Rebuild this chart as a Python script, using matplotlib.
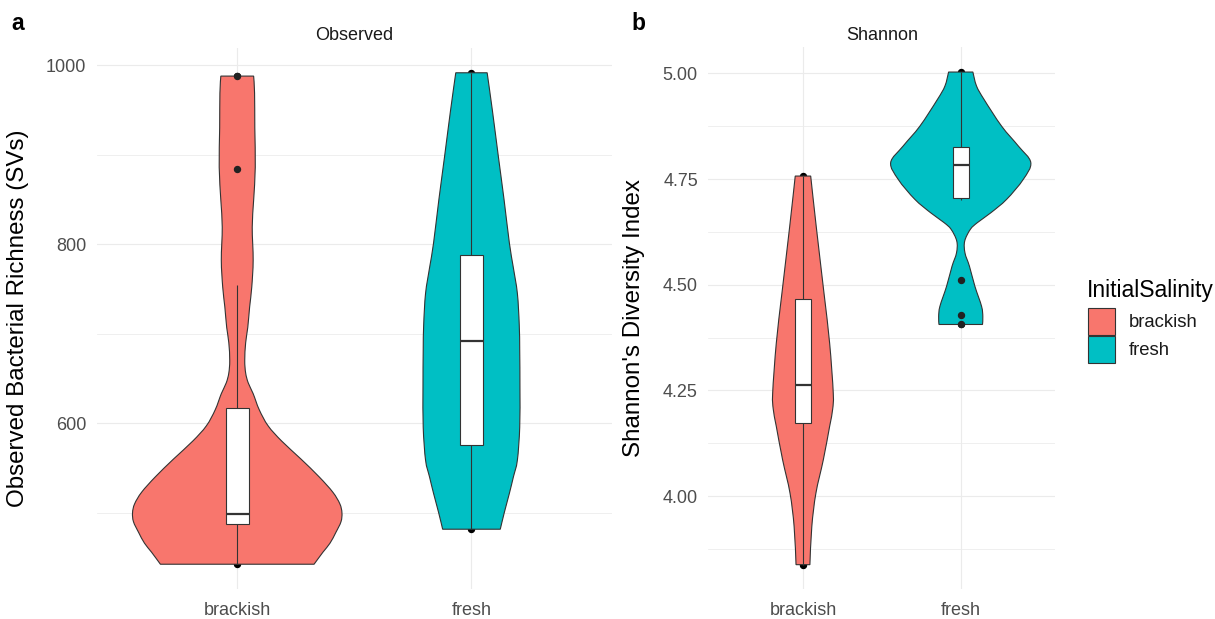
import numpy as np
import matplotlib
matplotlib.use("Agg")
import matplotlib.pyplot as plt
from matplotlib.patches import Rectangle, PathPatch
from matplotlib.path import Path

plt.rcParams['font.family'] = ['Liberation Sans', 'DejaVu Sans']

# ---------------- data ----------------
groups = ["brackish", "fresh"]
fill_colors = ["#F8766D", "#00BFC4"]

# Observed richness: violin outline (value, half-width in category units)
obs_brackish_y = [442.5, 456, 466, 478, 490, 500, 510, 523, 540, 560, 580, 597, 615,
                  633, 645, 656, 670, 690, 707, 730, 752, 782, 819, 849, 886, 930,
                  968.7, 987.7]
obs_brackish_w = [0.328, 0.366, 0.396, 0.421, 0.443, 0.447, 0.438, 0.408, 0.350, 0.272,
                  0.190, 0.132, 0.094, 0.068, 0.047, 0.036, 0.032, 0.036, 0.045, 0.053,
                  0.062, 0.068, 0.064, 0.070, 0.077, 0.075, 0.074, 0.070]
obs_fresh_y = [481.6, 500, 521.8, 540, 558.7, 595.5, 640, 681.6, 710, 745, 775, 801,
               850, 897.5, 950, 991.4]
obs_fresh_w = [0.123, 0.140, 0.162, 0.179, 0.196, 0.206, 0.207, 0.206, 0.204, 0.196,
               0.178, 0.162, 0.139, 0.115, 0.089, 0.067]
# box statistics: lower whisker, Q1, median, Q3, upper whisker
obs_brackish_box = [442.5, 487.9, 499.1, 617.1, 754.2]
obs_fresh_box = [481.6, 575.4, 691.6, 787.7, 991.4]
obs_brackish_outliers = [884.2, 987.7]
obs_fresh_outliers = []

# Shannon diversity
sha_brackish_y = [3.838, 3.928, 4.007, 4.086, 4.165, 4.205, 4.244, 4.362, 4.481, 4.638, 4.757]
sha_brackish_w = [0.044, 0.056, 0.082, 0.129, 0.169, 0.188, 0.192, 0.169, 0.133, 0.084, 0.049]
sha_fresh_y = [4.406, 4.425, 4.449, 4.496, 4.544, 4.575, 4.603, 4.631, 4.647, 4.670,
               4.702, 4.749, 4.789, 4.828, 4.875, 4.938, 4.970, 5.003]
sha_fresh_w = [0.138, 0.140, 0.132, 0.090, 0.055, 0.027, 0.025, 0.061, 0.106, 0.190,
               0.291, 0.396, 0.444, 0.365, 0.259, 0.148, 0.100, 0.077]
sha_brackish_box = [3.838, 4.173, 4.264, 4.467, 4.757]
sha_fresh_box = [4.700, 4.706, 4.784, 4.826, 5.003]
sha_brackish_outliers = []
sha_fresh_outliers = [4.406, 4.429, 4.512]

panels = [
    dict(letter="a", strip="Observed", ylabel="Observed Bacterial Richness (SVs)",
         major=[600, 800, 1000], major_labels=["600", "800", "1000"],
         minor=[500, 700, 900],
         violins=[(obs_brackish_y, obs_brackish_w), (obs_fresh_y, obs_fresh_w)],
         boxes=[obs_brackish_box, obs_fresh_box],
         outliers=[obs_brackish_outliers, obs_fresh_outliers]),
    dict(letter="b", strip="Shannon", ylabel="Shannon's Diversity Index",
         major=[4.00, 4.25, 4.50, 4.75, 5.00],
         major_labels=["4.00", "4.25", "4.50", "4.75", "5.00"],
         minor=[3.875, 4.125, 4.375, 4.625, 4.875],
         violins=[(sha_brackish_y, sha_brackish_w), (sha_fresh_y, sha_fresh_w)],
         boxes=[sha_brackish_box, sha_fresh_box],
         outliers=[sha_brackish_outliers, sha_fresh_outliers]),
]


def smooth_side(pts):
    """Bezier segments (Catmull-Rom style) through a sequence of outline points."""
    n = len(pts)
    verts, codes = [], []
    for i in range(n - 1):
        p_prev = pts[max(i - 1, 0)]
        p0 = pts[i]
        p1 = pts[i + 1]
        p_next = pts[min(i + 2, n - 1)]
        c1 = p0 + (p1 - p_prev) / 6.0
        c2 = p1 - (p_next - p0) / 6.0
        verts += [c1, c2, p1]
        codes += [Path.CURVE4] * 3
    return verts, codes


def violin_path(x, vy, vw):
    vy = np.asarray(vy, float)
    vw = np.asarray(vw, float)
    right = np.column_stack([x + vw, vy])
    left = np.column_stack([x - vw, vy])[::-1]
    verts = [right[0]]
    codes = [Path.MOVETO]
    v, c = smooth_side(right)
    verts += v
    codes += c
    verts.append(left[0])
    codes.append(Path.LINETO)
    v, c = smooth_side(left)
    verts += v
    codes += c
    verts.append(right[0])
    codes.append(Path.CLOSEPOLY)
    return Path(np.array(verts), codes)


# ---------------- figure ----------------
W, H = 1215, 619
fig = plt.figure(figsize=(W / 100, H / 100), dpi=100)


def axes_px(left, top, right, bottom):
    return fig.add_axes([left / W, 1 - bottom / H, (right - left) / W, (bottom - top) / H])


axes = [axes_px(96.7, 48.2, 612.0, 588.8), axes_px(708.3, 47.4, 1055.4, 589.3)]
letter_x = [11.5, 631.5]
ylabel_x = [-0.131, -0.182]

EDGE = "#333333"
GRID = "#EBEBEB"
BOX_W = 0.1

for ax, p, lx, ylx in zip(axes, panels, letter_x, ylabel_x):
    positions = np.arange(1, len(groups) + 1)
    all_vals = np.concatenate([np.asarray(v[0]) for v in p["violins"]])
    lo, hi = all_vals.min(), all_vals.max()
    span = hi - lo
    ax.set_ylim(lo - 0.05 * span, hi + 0.05 * span)
    ax.set_xlim(0.4, len(groups) + 0.6)

    for x, (vy, vw), box, outs, col in zip(positions, p["violins"], p["boxes"],
                                             p["outliers"], fill_colors):
        # raw extreme observations sit beneath the violin
        ax.plot([x, x], [vy[0], vy[-1]], 'o', color="black", ms=4.3, zorder=2,
                linestyle="none")
        ax.add_patch(PathPatch(violin_path(x, vy, vw), facecolor=col, edgecolor=EDGE,
                               linewidth=0.8, zorder=3))
        wlo, q1, med, q3, whi = box
        ax.plot([x, x], [wlo, q1], color=EDGE, lw=0.8, zorder=4, solid_capstyle="butt")
        ax.plot([x, x], [q3, whi], color=EDGE, lw=0.8, zorder=4, solid_capstyle="butt")
        ax.add_patch(Rectangle((x - BOX_W / 2, q1), BOX_W, q3 - q1, facecolor="white",
                               edgecolor=EDGE, linewidth=0.8, zorder=5))
        ax.plot([x - BOX_W / 2, x + BOX_W / 2], [med, med], color=EDGE, lw=1.6,
                zorder=6, solid_capstyle="butt")
        if outs:
            ax.plot([x] * len(outs), outs, 'o', color="#222222", ms=4.3, zorder=7,
                    linestyle="none")

    ax.set_xticks(positions, groups)
    ax.set_yticks(p["major"], p["major_labels"])
    ax.set_yticks(p["minor"], minor=True)
    ax.grid(which="major", color=GRID, linewidth=0.85)
    ax.grid(which="minor", axis="y", color=GRID, linewidth=0.55)
    ax.set_axisbelow(True)
    for s in ax.spines.values():
        s.set_visible(False)
    ax.tick_params(which="both", length=0)
    ax.tick_params(axis="x", labelsize=13, labelcolor="#4D4D4D", pad=9.4)
    ax.tick_params(axis="y", labelsize=13, labelcolor="#4D4D4D", pad=7.5)

    ax.set_ylabel(p["ylabel"], fontsize=17.4, color="black")
    ax.yaxis.set_label_coords(ylx, 0.5)

    # facet strip title
    bbox = ax.get_position()
    fig.text((bbox.x0 + bbox.x1) / 2, 1 - 39.5 / H, p["strip"], ha="center",
             va="baseline", fontsize=13, color="#1A1A1A")
    # panel tag
    fig.text(lx / W, 1 - 30 / H, p["letter"], ha="left", va="baseline",
             fontsize=16.5, fontweight="bold")

# ---------------- legend ----------------
fig.text(1086.5 / W, 1 - 296.5 / H, "InitialSalinity", ha="left", va="baseline",
         fontsize=16.5, color="black")
for i, (g, c) in enumerate(zip(groups, fill_colors)):
    top = 307.5 + i * 28.4
    fig.add_artist(Rectangle((1087.5 / W, 1 - (top + 27) / H), 27.5 / W, 27 / H,
                             transform=fig.transFigure, facecolor=c, edgecolor=EDGE,
                             linewidth=0.8))
    fig.text(1128.3 / W, 1 - (top + 19.5) / H, g, ha="left", va="baseline",
             fontsize=13.3, color="#1A1A1A")

fig.savefig("out.png", dpi=100)
